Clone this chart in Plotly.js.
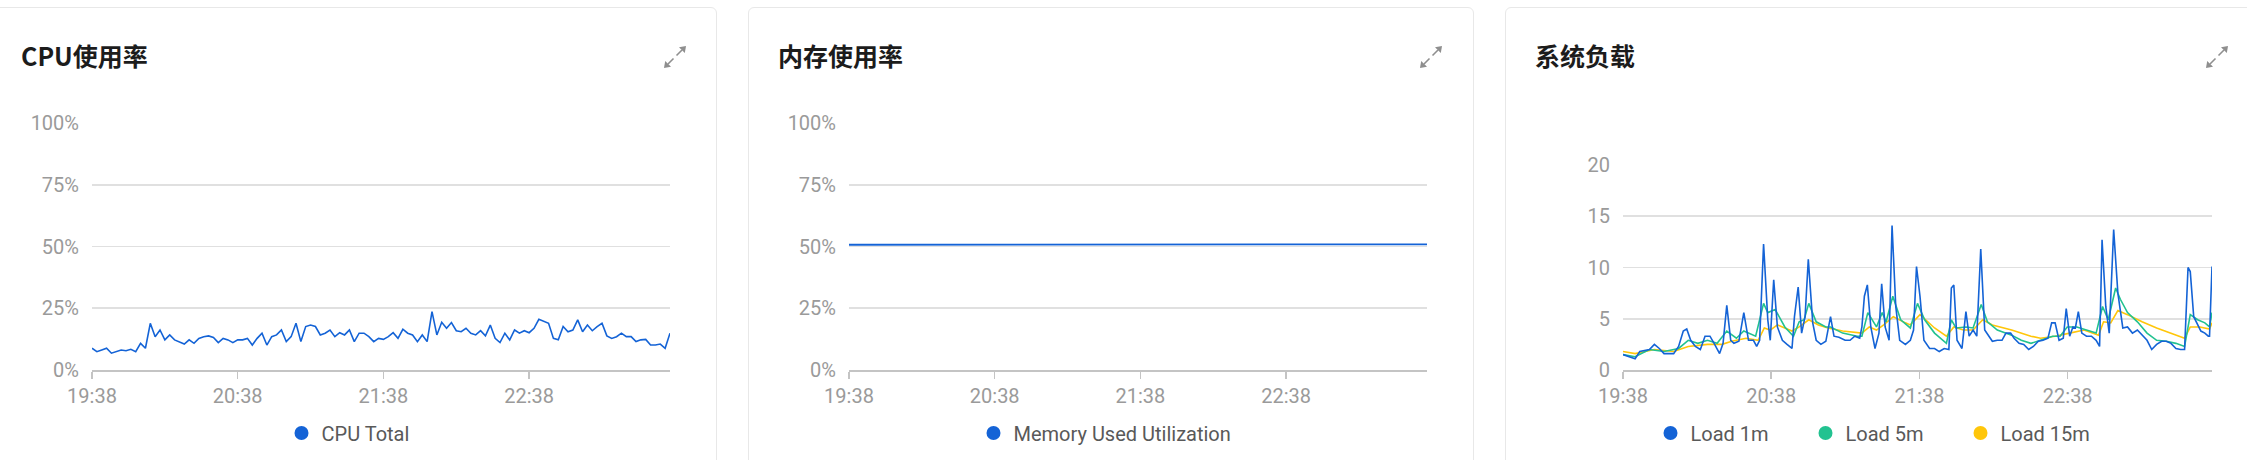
<!DOCTYPE html>
<html><head><meta charset="utf-8">
<script src="https://cdn.plot.ly/plotly-3.0.1.min.js"></script>
<style>
html,body{margin:0;padding:0;width:2247px;height:460px;overflow:hidden;background:#fff;}
.card{position:absolute;top:7px;height:470px;border:1px solid #e8e8e8;border-radius:6px;background:#fff;box-sizing:border-box;}
.plot{position:absolute;left:0;top:0;}
.icon{position:absolute;top:45px;width:24px;height:24px;}
</style></head><body>
<div class="card" style="left:-9px;width:726px"><div class="plot" id="cpu"></div></div>
<div class="card" style="left:748px;width:726px"><div class="plot" id="mem"></div></div>
<div class="card" style="left:1505px;width:756px"><div class="plot" id="load"></div></div>
<svg class="icon" style="left:663px" viewBox="0 0 24 24"><g stroke="#8f8f8f" stroke-width="1.6" fill="#8f8f8f"><line x1="13.5" y1="10.5" x2="19" y2="5"/><polygon points="23,1 16,2.2 21.8,8" stroke="none"/><line x1="10.5" y1="13.5" x2="5" y2="19"/><polygon points="1,23 8,21.8 2.2,16" stroke="none"/></g></svg>
<svg class="icon" style="left:1419px" viewBox="0 0 24 24"><g stroke="#8f8f8f" stroke-width="1.6" fill="#8f8f8f"><line x1="13.5" y1="10.5" x2="19" y2="5"/><polygon points="23,1 16,2.2 21.8,8" stroke="none"/><line x1="10.5" y1="13.5" x2="5" y2="19"/><polygon points="1,23 8,21.8 2.2,16" stroke="none"/></g></svg>
<svg class="icon" style="left:2205px" viewBox="0 0 24 24"><g stroke="#8f8f8f" stroke-width="1.6" fill="#8f8f8f"><line x1="13.5" y1="10.5" x2="19" y2="5"/><polygon points="23,1 16,2.2 21.8,8" stroke="none"/><line x1="10.5" y1="13.5" x2="5" y2="19"/><polygon points="1,23 8,21.8 2.2,16" stroke="none"/></g></svg>
<script>
// ---------- data ----------
const startTime = '2024-05-20 19:38:00';
const cpuStepMinutes = 2;
const cpuTotal = [
 8.8, 7.4, 8.1, 8.8, 6.8, 7.4, 8.1, 7.8, 8.4, 7.4,
 10.8, 8.8, 18.9, 13.5, 16.2, 12.2, 14.2, 12.2, 11.5, 10.5,
 12.2, 10.8, 12.8, 13.5, 13.8, 13.2, 11.1, 12.8, 12.2, 11.1,
 12.2, 12.2, 12.8, 10.1, 12.8, 14.9, 10.1, 13.5, 14.2, 16.2,
 11.5, 13.5, 18.9, 11.5, 17.6, 18.2, 17.6, 14.2, 14.9, 16.2,
 13.5, 15.1, 14.2, 16.2, 11.5, 14.9, 14.9, 13.5, 11.5, 12.8,
 12.4, 13.5, 15.1, 12.8, 16.5, 14.9, 14.2, 11.5, 14.2, 11.5,
 23.6, 14.2, 19.3, 16.9, 19.2, 15.9, 15.5, 16.9, 14.9, 14.2,
 15.9, 13.8, 18.2, 12.8, 11.1, 14.9, 12.2, 16.2, 14.9, 15.9,
 15.1, 16.9, 20.5, 19.6, 18.9, 12.8, 12.2, 17.6, 15.5, 16.2,
 20.3, 15.5, 18.2, 15.9, 17.6, 18.9, 13.8, 12.8, 13.5, 14.9,
 13.5, 13.5, 11.5, 12.2, 12.4, 10.1, 10.1, 10.5, 8.8, 14.9
];
const memMinutes = [0,10,20,30,40,50,60,70,80,90,100,110,120,130,140,150,160,170,180,190,200,210,220,230,238];
const memUsed = [50.7,50.7,50.7,50.8,50.8,50.8,50.8,50.8,50.8,50.8,50.8,50.7,50.8,50.8,50.8,50.8,50.8,50.9,50.9,50.9,50.9,50.9,50.8,50.9,50.9];

const load1Minutes = [0,2.9,4.9,6.8,8.8,10.7,12.7,14.7,16.6,18.6,20.5,22.5,24.4,25.8,27.4,29.3,31.3,33.2,35.2,37.1,39.1,40.5,42.0,43.6,44.9,46.9,48.9,50.8,52.8,54.1,55.3,56.9,58.6,59.6,61.0,62.5,64.5,66.4,68.4,69.4,70.9,72.3,73.7,75.0,76.8,78.2,80.1,82.1,84.0,85.4,87.4,89.9,91.9,93.8,95.8,96.7,97.7,98.9,100.3,102.0,103.6,104.7,106.1,107.7,108.9,110.4,112.0,114.3,116.3,117.6,118.8,120.2,121.8,124.1,126.1,128.0,130.0,131.9,132.9,133.9,135.2,137.2,138.8,140.1,141.7,143.2,144.8,146.4,147.9,149.5,151.5,153.4,155.0,156.9,158.3,160.3,162.2,164.2,166.1,168.1,170.0,172.0,173.5,174.9,176.5,178.2,179.4,180.8,182.1,183.1,184.3,185.7,187.6,189.6,191.5,192.9,193.9,195.4,196.8,198.6,200.3,202.3,204.2,206.2,208.2,210.1,212.1,214.0,216.0,218.0,219.9,221.8,223.8,225.7,227.3,228.7,229.6,231.0,232.6,233.9,235.5,236.9,237.4,238.4];
const load1 = [1.5,1.3,1.1,1.8,1.9,2.0,2.5,2.1,1.6,1.6,1.6,2.3,3.8,4.0,2.9,2.3,2.0,3.3,3.3,2.5,1.6,2.6,6.3,2.9,2.6,2.8,5.6,2.9,2.9,2.3,2.9,12.3,4.9,2.9,8.8,4.2,2.9,2.5,2.1,5.2,8.1,3.6,5.2,10.8,4.6,2.9,2.5,2.8,5.2,3.3,3.2,2.9,2.9,3.3,3.1,4.2,7.2,8.3,4.2,2.1,3.6,8.4,4.2,2.9,14.1,6.2,2.9,2.5,2.9,3.9,10.1,7.2,2.9,2.1,2.1,1.8,2.1,2.0,8.0,8.3,2.9,2.1,5.7,3.3,3.9,3.3,11.8,3.9,3.3,2.8,2.9,2.9,3.6,3.6,3.1,2.6,2.5,2.0,2.3,2.8,2.9,3.1,4.6,4.6,2.9,3.1,6.0,3.3,4.2,4.1,5.7,3.6,3.3,3.3,2.9,2.3,12.7,6.2,3.6,13.7,7.5,4.1,4.2,3.6,3.9,3.4,2.9,2.0,2.5,2.8,2.8,2.6,2.1,2.0,2.0,10.0,9.6,5.2,4.4,3.8,3.6,3.3,3.3,10.1];

const load5Minutes = [0,4.9,10.7,16.6,22.5,26.4,30.3,34.2,38.1,42.0,45.9,48.9,53.7,56.9,58.6,61.6,65.5,69.0,71.3,73.3,75.2,78.2,82.1,84.0,88.9,94.8,96.7,99.1,102.6,104.9,106.5,109.2,112.4,116.3,119.2,122.1,126.1,130.9,132.9,134.8,138.8,141.7,145.0,147.5,151.5,157.3,161.2,165.1,169.0,173.9,176.9,179.8,183.7,187.6,191.5,194.1,196.4,199.4,201.3,204.2,208.2,212.1,216.0,219.9,223.8,227.3,229.6,232.6,235.5,237.4,238.4];
const load5 = [1.5,1.3,2.0,1.8,2.1,2.9,2.6,2.9,2.6,3.8,3.1,3.8,3.3,6.5,5.6,5.9,4.2,3.3,4.7,4.9,6.5,4.7,4.2,4.2,3.6,3.3,3.3,5.6,4.2,5.6,4.7,7.2,4.9,4.1,6.5,4.9,3.6,2.6,4.9,4.1,4.2,4.1,6.4,4.7,3.9,3.4,2.9,2.6,2.9,3.3,3.3,4.2,4.2,3.9,3.6,6.2,4.9,8.0,6.9,5.6,4.7,3.6,2.9,2.8,2.6,2.3,5.4,4.9,4.6,4.2,5.6];

const load15Minutes = [0,4.9,12.7,20.5,26.4,34.2,40.1,44.0,49.8,54.7,57.2,59.6,62.5,68.4,71.3,75.2,79.1,83.0,88.9,96.7,99.7,102.6,105.5,109.4,114.3,116.3,120.2,126.1,130.9,133.9,137.8,141.7,145.6,149.5,157.3,165.1,169.0,174.9,180.8,186.6,192.5,194.5,197.4,200.3,204.2,210.1,216.0,221.8,227.3,229.6,233.5,237.4,238.4];
const load15 = [1.8,1.6,2.0,1.8,2.3,2.5,2.5,2.8,3.1,2.9,4.1,3.9,4.4,3.8,4.2,4.9,4.4,4.1,3.8,3.6,4.2,3.9,4.4,5.2,4.6,4.4,5.4,4.1,3.3,4.2,3.9,3.9,4.9,4.4,3.9,3.3,3.1,3.3,3.6,3.9,3.4,4.7,4.6,5.8,5.4,4.7,4.1,3.6,3.1,4.2,4.2,4.0,4.6];

const seriesNames = ['CPU Total', 'Memory Used Utilization', 'Load 1m', 'Load 5m', 'Load 15m'];
const panelTitles = ['CPU使用率', '内存使用率', '系统负载'];
const colors = {blue:'#1463d6', green:'#22c290', yellow:'#ffc60a'};

// ---------- helpers ----------
const t0 = new Date(startTime.replace(' ', 'T') + 'Z').getTime();
function ts(min) {
  const d = new Date(t0 + Math.round(min * 60000));
  return d.toISOString().replace('T', ' ').slice(0, 19);
}
const cpuTimes = cpuTotal.map((_, i) => ts(i * cpuStepMinutes));
const font = 'Roboto, "Noto Sans CJK SC", sans-serif';

function layoutFor(o) {
  return {
    width: o.w, height: 452,
    margin: {l: o.l, r: o.r, t: o.t, b: o.b},
    paper_bgcolor: 'rgba(0,0,0,0)', plot_bgcolor: 'rgba(0,0,0,0)',
    font: {family: font, size: 20, color: '#9a9a9a'},
    title: {text: o.title, xref: 'container', yref: 'container', x: 29 / o.w, xanchor: 'left',
            y: 1 - 49 / 452, yanchor: 'middle',
            font: {family: '"Noto Sans CJK SC", Roboto, sans-serif', size: 25, weight: 700, color: '#1c1c1c'}},
    showlegend: true,
    legend: {orientation: 'h', xref: 'container', yref: 'container', x: o.legX, xanchor: 'center',
             y: 1 - 425 / 452, yanchor: 'middle', font: {family: font, size: 20, color: '#595959'},
             itemclick: false, itemdoubleclick: false, entrywidth: o.entry, entrywidthmode: 'pixels'},
    xaxis: {type: 'date', range: [ts(0), ts(o.xEnd)], tick0: ts(0), dtick: 3600000, tickformat: '%H:%M',
            showgrid: false, showline: true, linecolor: '#c4c4c4', linewidth: 2,
            ticks: 'outside', ticklen: 7, tickwidth: 1.5, tickcolor: '#c4c4c4',
            tickfont: {size: 20, color: '#9a9a9a'}, zeroline: false, fixedrange: true},
    yaxis: {range: o.yRange, dtick: o.dtick, tick0: 0, ticksuffix: o.suffix, showgrid: true,
            gridcolor: '#e0e0e0', gridwidth: 1.6, zeroline: false, showline: false, ticks: '',
            ticklabelstandoff: 12, tickfont: {size: 20, color: '#9a9a9a'}, fixedrange: true}
  };
}
function dot(name, color) {
  return {x: [null], y: [null], type: 'scatter', mode: 'markers', name: name,
          marker: {size: 14, color: color}, showlegend: true, hoverinfo: 'skip'};
}
const cfg = {displayModeBar: false, staticPlot: true};

Plotly.newPlot('cpu', [
  {x: cpuTimes, y: cpuTotal, type: 'scatter', mode: 'lines', line: {color: colors.blue, width: 1.6}, showlegend: false},
  dot(seriesNames[0], colors.blue)
], layoutFor({w: 724, l: 100, r: 46, t: 115, b: 90, title: panelTitles[0], legX: 0.5 - 6 / 724, entry: null,
             xEnd: (cpuTotal.length - 1) * cpuStepMinutes, yRange: [0, 100], dtick: 25, suffix: '%'}), cfg);

Plotly.newPlot('mem', [
  {x: memMinutes.map(ts), y: memUsed, type: 'scatter', mode: 'lines', line: {color: colors.blue, width: 1.8}, showlegend: false},
  dot(seriesNames[1], colors.blue)
], layoutFor({w: 724, l: 100, r: 46, t: 115, b: 90, title: panelTitles[1], legX: 0.5 - 6 / 724, entry: null,
             xEnd: 238, yRange: [0, 100], dtick: 25, suffix: '%'}), cfg);

Plotly.newPlot('load', [
  {x: load15Minutes.map(ts), y: load15, type: 'scatter', mode: 'lines', line: {color: colors.yellow, width: 1.6}, showlegend: false},
  {x: load5Minutes.map(ts), y: load5, type: 'scatter', mode: 'lines', line: {color: colors.green, width: 1.6}, showlegend: false},
  {x: load1Minutes.map(ts), y: load1, type: 'scatter', mode: 'lines', line: {color: colors.blue, width: 1.6}, showlegend: false},
  dot(seriesNames[2], colors.blue), dot(seriesNames[3], colors.green), dot(seriesNames[4], colors.yellow)
], layoutFor({w: 754, l: 117, r: 48, t: 157, b: 90, title: panelTitles[2], legX: 0.5, entry: 110,
             xEnd: 238.4, yRange: [0, 20], dtick: 5, suffix: ''}), cfg);
</script>
</body></html>
